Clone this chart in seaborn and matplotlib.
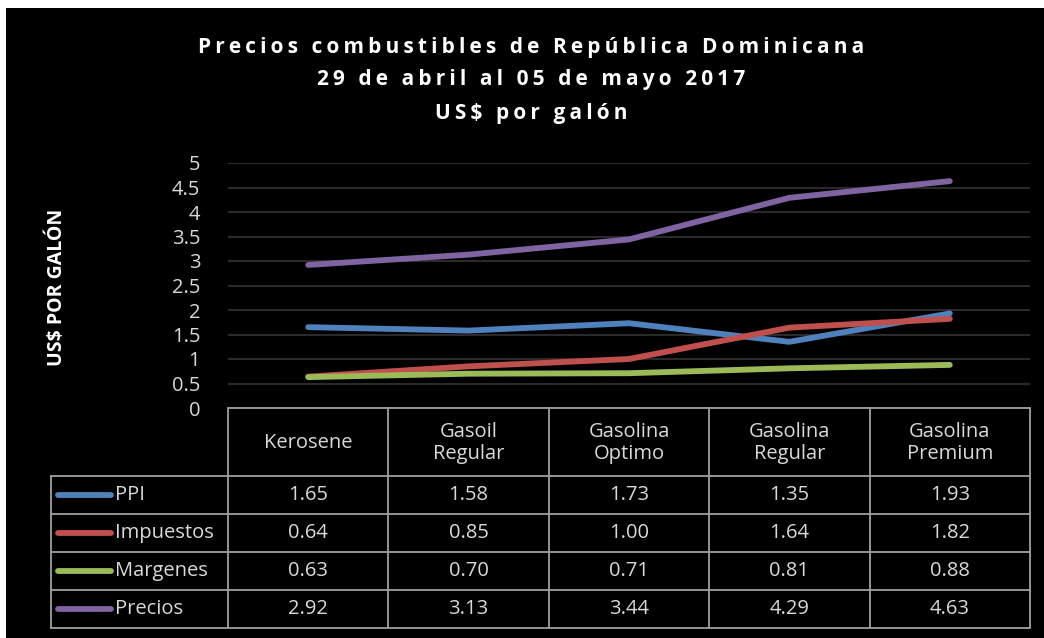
import numpy as np
import pandas as pd
import seaborn as sns
import matplotlib.pyplot as plt
from matplotlib.patches import Rectangle
from matplotlib.lines import Line2D

# data
categories = ['Kerosene', 'Gasoil\nRegular', 'Gasolina\nOptimo', 'Gasolina\nRegular', 'Gasolina\nPremium']
ppi = [1.65, 1.58, 1.73, 1.35, 1.93]
impuestos = [0.64, 0.85, 1.00, 1.64, 1.82]
margenes = [0.63, 0.70, 0.71, 0.81, 0.88]
precios = [2.92, 3.13, 3.44, 4.29, 4.63]
series_names = ['PPI', 'Impuestos', 'Margenes', 'Precios']
colors = ['#4f81bd', '#c0504d', '#9bbb59', '#8064a2']

rows = []
for name, vals in zip(series_names, [ppi, impuestos, margenes, precios]):
    for i, v in enumerate(vals):
        rows.append({'serie': name, 'pos': i, 'valor': v})
df = pd.DataFrame(rows)

sns.set_style('dark')
plt.rcParams['font.family'] = ['Open Sans', 'DejaVu Sans']
txt = '#d9d9d9'
grid_c = '#2a2a2a'
border_c = '#a0a0a0'
fs = 14.5

W, H = 1044, 638
fig = plt.figure(figsize=(W / 100, H / 100), dpi=100, facecolor='black')
# white strips on the top and left edge
fig.patches.append(Rectangle((0, 1 - 8 / H), 1, 8 / H, transform=fig.transFigure,
                             facecolor='white', edgecolor='none', zorder=-10))
fig.patches.append(Rectangle((0, 0), 6 / W, 1, transform=fig.transFigure,
                             facecolor='white', edgecolor='none', zorder=-10))

x0, x1 = 228, 1030
ytop, ybot = 163, 408
ax = fig.add_axes([x0 / W, 1 - ybot / H, (x1 - x0) / W, (ybot - ytop) / H])
ax.set_facecolor('black')

sns.lineplot(data=df, x='pos', y='valor', hue='serie', palette=colors, hue_order=series_names,
             sort=False, linewidth=4.2, ax=ax, legend=False,
             solid_capstyle='round')

ax.set_xlim(-0.5, 4.5)
ax.set_ylim(0, 5)
ax.set_yticks(np.arange(0, 5.01, 0.5))
ax.set_yticklabels(['0', '0.5', '1', '1.5', '2', '2.5', '3', '3.5', '4', '4.5', '5'])
ax.tick_params(axis='y', colors=txt, labelsize=fs, length=0, pad=20)
ax.set_xticks([])
ax.set_xlabel('')
ax.set_ylabel('')
ax.grid(axis='y', color=grid_c, linewidth=1.5)
ax.grid(axis='x', visible=False)
for s in ax.spines.values():
    s.set_visible(False)

# table below the plot (pixel -> axes coords)
def py(p):
    return (ybot - p) / (ybot - ytop)

def px(p):
    return (p - x0) / (x1 - x0)

tkw = dict(transform=ax.transAxes, clip_on=False, color=border_c, linewidth=1.3)
row_lines = [408, 476, 514, 552, 590, 628]
col_edges = [228 + i * (x1 - x0) / 5 for i in range(6)]
# header row
ax.add_line(Line2D([px(x0), px(x1)], [py(408), py(408)], **tkw))
for yl in row_lines[1:]:
    ax.add_line(Line2D([px(51), px(x1)], [py(yl), py(yl)], **tkw))
for xe in col_edges:
    ax.add_line(Line2D([px(xe), px(xe)], [py(408), py(628)], **tkw))
ax.add_line(Line2D([px(51), px(51)], [py(476), py(628)], **tkw))

for i, cat in enumerate(categories):
    xc = px((col_edges[i] + col_edges[i + 1]) / 2)
    ax.text(xc, py(443), cat, transform=ax.transAxes, ha='center', va='center',
            color=txt, fontsize=fs, linespacing=1.15)

for r, (name, vals, c) in enumerate(zip(series_names, [ppi, impuestos, margenes, precios], colors)):
    yc = py((row_lines[r + 1] + row_lines[r + 2]) / 2)
    ax.add_line(Line2D([px(58), px(111)], [yc, yc], transform=ax.transAxes, clip_on=False,
                       color=c, linewidth=4.2, solid_capstyle='round'))
    ax.text(px(115), yc, name, transform=ax.transAxes, ha='left', va='center',
            color=txt, fontsize=fs)
    for i, v in enumerate(vals):
        xc = px((col_edges[i] + col_edges[i + 1]) / 2)
        ax.text(xc, yc, f'{v:.2f}', transform=ax.transAxes, ha='center', va='center',
                color=txt, fontsize=fs)

# titles, letter spaced with thin spaces
title_lines = ['Precios combustibles de República Dominicana', '29 de abril al 05 de mayo 2017', 'US$ por galón']
for t, yy in zip(title_lines, [47, 80, 114]):
    fig.text(531 / W, 1 - yy / H, '\u2009'.join(t), ha='center', va='center', color='white',
             fontsize=15, fontweight='bold', family=['Open Sans', 'DejaVu Sans'])
fig.text(57 / W, 1 - 287 / H, 'US$ POR GALÓN', rotation=90, ha='center', va='center',
         color='white', fontsize=14, fontweight='bold')

fig.savefig('out.png', dpi=100, facecolor=fig.get_facecolor())
